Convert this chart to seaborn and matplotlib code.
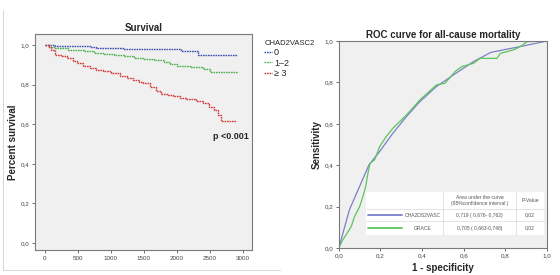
import numpy as np
import pandas as pd
import matplotlib
matplotlib.use("Agg")
import matplotlib.pyplot as plt
import seaborn as sns
from matplotlib.lines import Line2D
from matplotlib.patches import Rectangle

sns.set_theme(style="white")
plt.rcParams['font.family'] = ['Liberation Sans', 'DejaVu Sans']

# Kaplan-Meier survival, by CHA2DS2-VASc group (days, survival)
km_t_0 = [0, 150, 530, 680, 780, 1185, 2070, 2320, 2910]
km_s_0 = [1.0, 0.997, 0.993, 0.99, 0.985, 0.98, 0.968, 0.948, 0.948]
km_t_12 = [0, 60, 150, 350, 600, 750, 900, 1050, 1200, 1350, 1500, 1650, 1800,
           1900, 2000, 2200, 2400, 2500, 2930]
km_s_12 = [1.0, 0.99, 0.983, 0.975, 0.968, 0.962, 0.956, 0.95, 0.943, 0.936,
           0.929, 0.922, 0.914, 0.905, 0.895, 0.89, 0.878, 0.865, 0.865]
km_t_3 = [0, 60, 100, 150, 250, 330, 420, 480, 580, 680, 780, 880, 1000, 1135,
          1250, 1335, 1420, 1490, 1590, 1680, 1765, 1850, 1940, 2050, 2140,
          2295, 2395, 2495, 2570, 2620, 2670, 2900]
km_s_3 = [1.0, 0.99, 0.975, 0.951, 0.945, 0.934, 0.92, 0.909, 0.895, 0.883,
          0.875, 0.867, 0.857, 0.845, 0.835, 0.824, 0.815, 0.807, 0.787, 0.77,
          0.753, 0.747, 0.74, 0.733, 0.726, 0.715, 0.706, 0.689, 0.672, 0.647,
          0.618, 0.618]
km_labels = ['0', '1\u20132', '\u2265 3']
km_colors = ['#3d4fb0', '#4cb04c', '#d23a3a']

# ROC curves (1 - specificity, sensitivity)
roc_fpr_cha = [0, 0.051, 0.145, 0.196, 0.26, 0.325, 0.389, 0.469, 0.55, 0.646,
               0.73, 0.871, 1.0]
roc_tpr_cha = [0, 0.185, 0.402, 0.466, 0.555, 0.635, 0.707, 0.78, 0.836, 0.9,
               0.945, 0.973, 1.0]
roc_fpr_grace = [0, 0.019, 0.035, 0.06, 0.076, 0.1, 0.116, 0.129, 0.14, 0.15,
                 0.172, 0.196, 0.228, 0.26, 0.325, 0.389, 0.469, 0.51, 0.558,
                 0.59, 0.646, 0.678, 0.759, 0.775, 0.839, 0.871, 0.904, 1.0]
roc_tpr_grace = [0, 0.04, 0.064, 0.105, 0.153, 0.2, 0.25, 0.297, 0.362, 0.41,
                 0.426, 0.49, 0.539, 0.579, 0.643, 0.715, 0.788, 0.796, 0.852,
                 0.876, 0.892, 0.916, 0.916, 0.94, 0.957, 0.973, 0.997, 1.0]
roc_colors = ['#7a80c8', '#5cc45c']

table_header = ['Area under the curve\n(95%confidence interval )', 'P-Value']
table_names = ['CHA2DS2VASC', 'GRACE']
table_auc = ['0,719 ( 0,676- 0,762)', '0,705 ( 0,663-0,748)']
table_p = ['0,02', '0,02']

fig = plt.figure(figsize=(5.6, 2.75), dpi=100)
ax1 = fig.add_axes([0.0625, 0.091, 0.3875, 0.785])
ax2 = fig.add_axes([0.605, 0.098, 0.372, 0.753])

# faint frame around the survival figure, as in the source image
fig.add_artist(Line2D([0.006, 0.006], [0.02, 0.965], color='#d0d0d0', lw=0.6))
fig.add_artist(Line2D([0.006, 0.50], [0.02, 0.02], color='#d0d0d0', lw=0.6))

tick_kw = dict(labelsize=4.5, labelcolor='#444444', length=2.5, width=0.6,
               color='#555555', pad=1.5)

# ---- survival panel
ax1.set_facecolor('#f0f0f0')
km = [(km_t_0, km_s_0), (km_t_12, km_s_12), (km_t_3, km_s_3)]
for (t, s), lab, c in zip(km, km_labels, km_colors):
    df = pd.DataFrame({'t': t, 's': s})
    sns.lineplot(data=df, x='t', y='s', ax=ax1, color=c, lw=1.0,
                 linestyle=(0, (1.2, 0.6)), drawstyle='steps-post',
                 estimator=None, sort=False)
ax1.set_xlim(-150, 3140)
ax1.set_ylim(-0.035, 1.055)
ax1.set_xticks([0, 500, 1000, 1500, 2000, 2500, 3000])
ax1.set_yticks([0, 0.2, 0.4, 0.6, 0.8, 1.0])
ax1.set_yticklabels(['0,0', '0,2', '0,4', '0,6', '0,8', '1,0'])
ax1.tick_params(axis='both', direction='out', **tick_kw)
ax1.tick_params(left=True, bottom=True)
for sp in ax1.spines.values():
    sp.set_color('#7a7a7a')
    sp.set_linewidth(0.8)
ax1.set_xlabel('')
ax1.set_ylabel('Percent survival', fontsize=7, fontweight='bold', labelpad=2)
ax1.set_title('Survival', fontsize=7, fontweight='bold', pad=2)
ax1.text(2545, 0.537, 'p <0.001', fontsize=6.5, fontweight='bold',
         va='center', ha='left')

handles = [Line2D([], [], color=c, lw=1.0, linestyle=(0, (1.2, 0.6)))
           for c in km_colors]
leg = fig.legend(handles, km_labels, title='CHAD2VASC2', loc='upper left',
                 bbox_to_anchor=(0.462, 0.875), frameon=False, fontsize=6.5,
                 title_fontsize=5.5, handlelength=0.9, handletextpad=0.2,
                 labelspacing=0.15, borderpad=0.1)
leg._legend_box.align = 'left'

# ---- ROC panel
ax2.set_facecolor('#f0f0f0')
for fpr, tpr, c in [(roc_fpr_cha, roc_tpr_cha, roc_colors[0]),
                    (roc_fpr_grace, roc_tpr_grace, roc_colors[1])]:
    df = pd.DataFrame({'fpr': fpr, 'tpr': tpr})
    sns.lineplot(data=df, x='fpr', y='tpr', ax=ax2, color=c, lw=0.9,
                 estimator=None, sort=False)
ax2.set_xlim(0, 1)
ax2.set_ylim(0, 1)
ticks = [0, 0.2, 0.4, 0.6, 0.8, 1.0]
tlabels = ['0,0', '0,2', '0,4', '0,6', '0,8', '1,0']
ax2.set_xticks(ticks)
ax2.set_xticklabels(tlabels)
ax2.set_yticks(ticks)
ax2.set_yticklabels(tlabels)
ax2.tick_params(axis='both', direction='out', **tick_kw)
ax2.tick_params(left=True, bottom=True)
for sp in ax2.spines.values():
    sp.set_color('#7a7a7a')
    sp.set_linewidth(0.8)
ax2.set_xlabel('1 - specificity', fontsize=7, fontweight='bold', labelpad=3)
ax2.set_ylabel('Sensitivity', fontsize=7, fontweight='bold', labelpad=2)
ax2.set_title('ROC curve for all-cause mortality', fontsize=7,
              fontweight='bold', pad=2)

# results table inside the ROC axes
cols = [0.13, 0.269, 0.50, 0.851, 0.986]
rows = [0.27, 0.188, 0.13, 0.063]
ax2.add_patch(Rectangle((cols[0], rows[-1]), cols[-1] - cols[0],
                        rows[0] - rows[-1], transform=ax2.transAxes,
                        facecolor='white', edgecolor='none', zorder=3))
lc = '#d8d8d8'
for y in rows[1:-1]:
    ax2.plot([cols[0], cols[-1]], [y, y], transform=ax2.transAxes,
             color=lc, lw=0.5, zorder=4)
for x in cols[2:-1]:
    ax2.plot([x, x], [rows[0], rows[-1]], transform=ax2.transAxes,
             color=lc, lw=0.5, zorder=4)
tk = dict(transform=ax2.transAxes, fontsize=3.6, color='#555555',
          ha='center', va='center', zorder=5)
ax2.text((cols[2] + cols[3]) / 2, (rows[0] + rows[1]) / 2, table_header[0],
         linespacing=1.2, **tk)
ax2.text((cols[3] + cols[4]) / 2, (rows[0] + rows[1]) / 2, table_header[1], **tk)
for i in range(2):
    yc = (rows[i + 1] + rows[i + 2]) / 2
    ax2.plot([cols[0] + 0.01, cols[1] + 0.035], [yc, yc],
             transform=ax2.transAxes, color=roc_colors[i], lw=1.3, zorder=5)
    ax2.text((cols[1] + cols[2]) / 2 + 0.02, yc, table_names[i], **tk)
    ax2.text((cols[2] + cols[3]) / 2, yc, table_auc[i], **tk)
    ax2.text((cols[3] + cols[4]) / 2, yc, table_p[i], **tk)

fig.savefig('out.png', dpi=100)
